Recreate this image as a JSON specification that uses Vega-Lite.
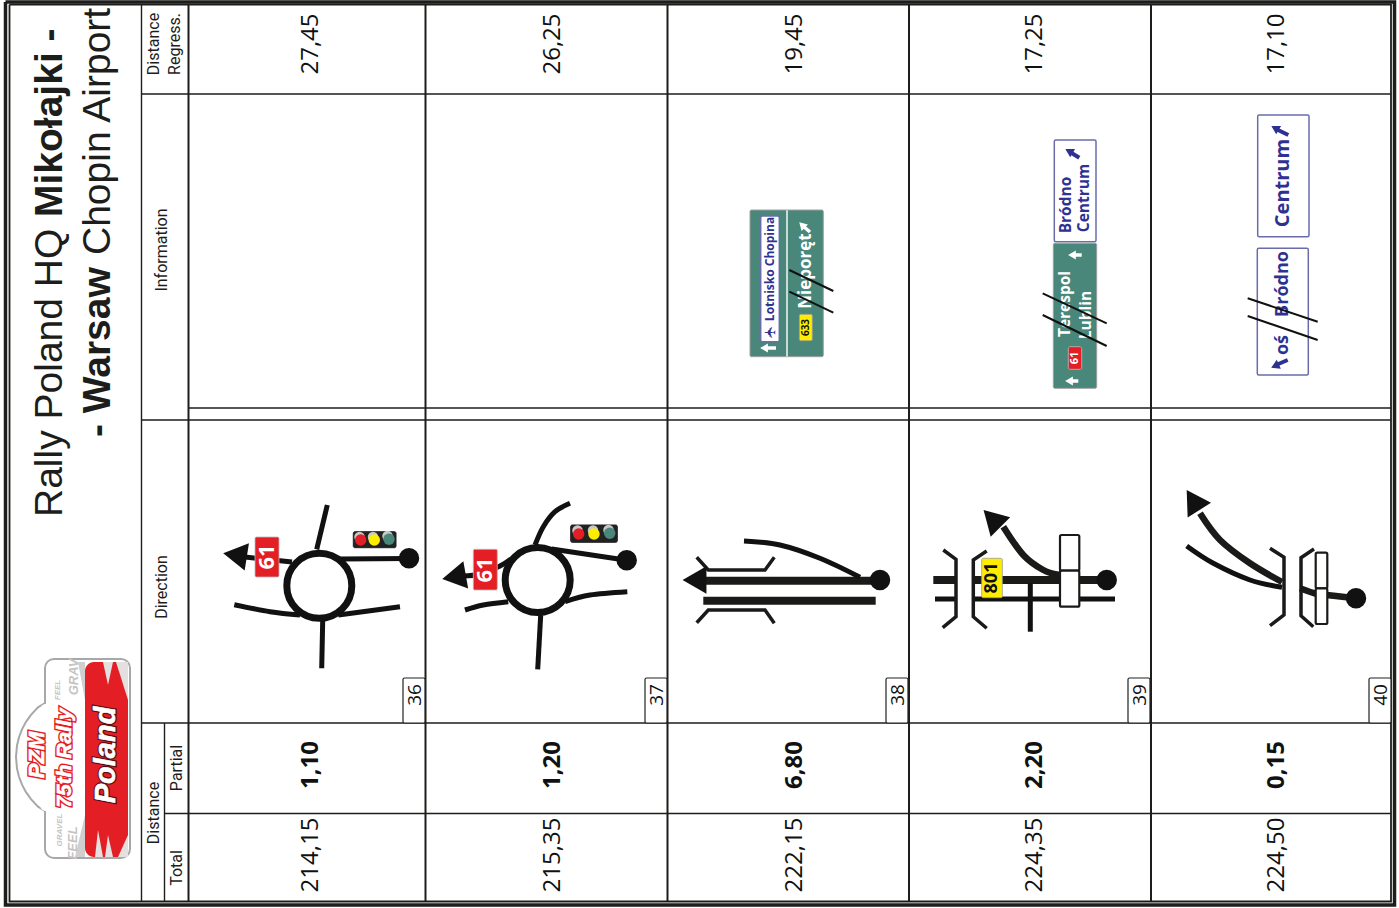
{"$schema":"https://vega.github.io/schema/vega-lite/v6.json","width":1399,"height":908,"padding":0,"autosize":"none","background":"white","config":{"view":{"stroke":null}},
"resolve":{"scale":{"color":"independent","fill":"independent","stroke":"independent","strokeWidth":"independent","size":"independent"}},
"datasets":{
"areas":[
{"piece":"dome","kind":"dome","x":16,"y":757,"y2":757},{"piece":"dome","kind":"dome","x":17,"y":745.5,"y2":768.5},{"piece":"dome","kind":"dome","x":19,"y":737.2,"y2":776.8},{"piece":"dome","kind":"dome","x":22,"y":729.3,"y2":784.7},{"piece":"dome","kind":"dome","x":26,"y":721.8,"y2":792.2},{"piece":"dome","kind":"dome","x":31,"y":714.8,"y2":799.2},{"piece":"dome","kind":"dome","x":38,"y":707.4,"y2":806.6},{"piece":"dome","kind":"dome","x":47,"y":702,"y2":812}
],
"logoRects":[
{"kind":"body","x":45,"x2":130,"y":659,"y2":858},
{"kind":"cover","x":40,"x2":52,"y":704,"y2":811},
{"kind":"red","x":85,"x2":128,"y":662,"y2":857}
],
"flames":[
{"piece":"t1","kind":"grey","x":78,"y":662,"y2":662},{"piece":"t1","kind":"grey","x":85,"y":662,"y2":700},
{"piece":"t2","kind":"pale","x":103,"y":662,"y2":662},{"piece":"t2","kind":"pale","x":108,"y":662,"y2":685},{"piece":"t2","kind":"pale","x":113,"y":662,"y2":662},
{"piece":"t3","kind":"pale","x":116,"y":662,"y2":662},{"piece":"t3","kind":"pale","x":128,"y":662,"y2":700},
{"piece":"b1","kind":"grey","x":75,"y":857,"y2":857},{"piece":"b1","kind":"grey","x":85,"y":815,"y2":857},
{"piece":"b2","kind":"pale","x":95,"y":857,"y2":857},{"piece":"b2","kind":"pale","x":98,"y":830,"y2":857},{"piece":"b2","kind":"pale","x":103,"y":857,"y2":857},
{"piece":"b3","kind":"pale","x":105,"y":857,"y2":857},{"piece":"b3","kind":"pale","x":108,"y":835,"y2":857},{"piece":"b3","kind":"pale","x":113,"y":857,"y2":857},
{"piece":"b4","kind":"pale","x":118,"y":857,"y2":857},{"piece":"b4","kind":"pale","x":128,"y":835,"y2":857}
],
"lines":[
{"path":"fo","kind":"frameOuter","seq":1,"x":5.5,"y":2},{"path":"fo","kind":"frameOuter","seq":2,"x":1394.5,"y":2},{"path":"fo","kind":"frameOuter","seq":3,"x":1394.5,"y":905},{"path":"fo","kind":"frameOuter","seq":4,"x":5.5,"y":905},{"path":"fo","kind":"frameOuter","seq":5,"x":5.5,"y":2},
{"path":"fi","kind":"frameInner","seq":1,"x":9.5,"y":4.5},{"path":"fi","kind":"frameInner","seq":2,"x":1391,"y":4.5},{"path":"fi","kind":"frameInner","seq":3,"x":1391,"y":901.5},{"path":"fi","kind":"frameInner","seq":4,"x":9.5,"y":901.5},{"path":"fi","kind":"frameInner","seq":5,"x":9.5,"y":4.5},
{"path":"v1","kind":"thin","seq":1,"x":141.5,"y":5},{"path":"v1","kind":"thin","seq":2,"x":141.5,"y":902},
{"path":"v2","kind":"major","seq":1,"x":188.5,"y":5},{"path":"v2","kind":"major","seq":2,"x":188.5,"y":902},
{"path":"v3","kind":"thin","seq":1,"x":164.5,"y":723},{"path":"v3","kind":"thin","seq":2,"x":164.5,"y":902},
{"path":"r1","kind":"major","seq":1,"x":425.5,"y":5},{"path":"r1","kind":"major","seq":2,"x":425.5,"y":902},
{"path":"r2","kind":"major","seq":1,"x":667.5,"y":5},{"path":"r2","kind":"major","seq":2,"x":667.5,"y":902},
{"path":"r3","kind":"major","seq":1,"x":909,"y":5},{"path":"r3","kind":"major","seq":2,"x":909,"y":902},
{"path":"r4","kind":"major","seq":1,"x":1151,"y":5},{"path":"r4","kind":"major","seq":2,"x":1151,"y":902},
{"path":"h1","kind":"thin","seq":1,"x":141.5,"y":94},{"path":"h1","kind":"thin","seq":2,"x":1391,"y":94},
{"path":"h2","kind":"thin","seq":1,"x":188.5,"y":408},{"path":"h2","kind":"thin","seq":2,"x":1391,"y":408},
{"path":"h3","kind":"thin","seq":1,"x":141.5,"y":420},{"path":"h3","kind":"thin","seq":2,"x":1391,"y":420},
{"path":"h4","kind":"thin","seq":1,"x":141.5,"y":723},{"path":"h4","kind":"thin","seq":2,"x":1391,"y":723},
{"path":"h5","kind":"thin","seq":1,"x":164.5,"y":813.5},{"path":"h5","kind":"thin","seq":2,"x":1391,"y":813.5},

{"path":"a1","kind":"road","seq":1,"x":409,"y":558.5},{"path":"a1","kind":"road","seq":2,"x":340,"y":559},
{"path":"a2","kind":"road","seq":1,"x":292,"y":562},{"path":"a2","kind":"road","seq":2,"x":245,"y":557},
{"path":"a3","kind":"road","seq":1,"x":316.7,"y":549.3},{"path":"a3","kind":"road","seq":2,"x":327.3,"y":505},
{"path":"a5","kind":"road","seq":1,"x":338.3,"y":615},{"path":"a5","kind":"road","seq":2,"x":400,"y":606.7},
{"path":"a6","kind":"road","seq":1,"x":322.7,"y":620},{"path":"a6","kind":"road","seq":2,"x":321.7,"y":668.3},
{"path":"b1","kind":"road","seq":1,"x":551.7,"y":549},{"path":"b1","kind":"road","seq":2,"x":626.7,"y":560.3},
{"path":"b6","kind":"road","seq":1,"x":540.7,"y":615},{"path":"b6","kind":"road","seq":2,"x":537.7,"y":669.3},

{"path":"c1","kind":"heavy","seq":1,"x":876.7,"y":580.7},{"path":"c1","kind":"heavy","seq":2,"x":704,"y":580.7},
{"path":"c2","kind":"heavy","seq":1,"x":703.3,"y":600.7},{"path":"c2","kind":"heavy","seq":2,"x":875.7,"y":600.7},
{"path":"c3","kind":"bridge","seq":1,"x":696.7,"y":557.3},{"path":"c3","kind":"bridge","seq":2,"x":708.3,"y":570},{"path":"c3","kind":"bridge","seq":3,"x":765,"y":570},{"path":"c3","kind":"bridge","seq":4,"x":774.3,"y":557.3},
{"path":"c4","kind":"bridge","seq":1,"x":696.7,"y":622.7},{"path":"c4","kind":"bridge","seq":2,"x":708.3,"y":610},{"path":"c4","kind":"bridge","seq":3,"x":765,"y":610},{"path":"c4","kind":"bridge","seq":4,"x":774.3,"y":623.3},

{"path":"d1","kind":"heavy","seq":1,"x":933.3,"y":580},{"path":"d1","kind":"heavy","seq":2,"x":955,"y":580},
{"path":"d2","kind":"heavy","seq":1,"x":972,"y":580},{"path":"d2","kind":"heavy","seq":2,"x":1100,"y":580},
{"path":"d3","kind":"road","seq":1,"x":935,"y":599},{"path":"d3","kind":"road","seq":2,"x":955,"y":599},
{"path":"d4","kind":"road","seq":1,"x":972,"y":599},{"path":"d4","kind":"road","seq":2,"x":1115,"y":599},
{"path":"d5","kind":"road","seq":1,"x":1030.3,"y":583},{"path":"d5","kind":"road","seq":2,"x":1030.3,"y":631.7},
{"path":"d6","kind":"bridge","seq":1,"x":943.3,"y":550},{"path":"d6","kind":"bridge","seq":2,"x":956,"y":559.3},{"path":"d6","kind":"bridge","seq":3,"x":956,"y":616.7},{"path":"d6","kind":"bridge","seq":4,"x":942.7,"y":627.7},
{"path":"d7","kind":"bridge","seq":1,"x":986.7,"y":551},{"path":"d7","kind":"bridge","seq":2,"x":973.3,"y":560},{"path":"d7","kind":"bridge","seq":3,"x":973.3,"y":616.7},{"path":"d7","kind":"bridge","seq":4,"x":986.7,"y":628.3},

{"path":"e2","kind":"bridge","seq":1,"x":1270,"y":548.3},{"path":"e2","kind":"bridge","seq":2,"x":1284,"y":557.3},{"path":"e2","kind":"bridge","seq":3,"x":1284,"y":615},{"path":"e2","kind":"bridge","seq":4,"x":1270,"y":625.7},
{"path":"e3","kind":"bridge","seq":1,"x":1314,"y":549},{"path":"e3","kind":"bridge","seq":2,"x":1301,"y":557.7},{"path":"e3","kind":"bridge","seq":3,"x":1301,"y":615.7},{"path":"e3","kind":"bridge","seq":4,"x":1313.3,"y":626.7}
],
"curves":[
{"path":"a4","kind":"road","seq":1,"x":234.3,"y":604.7},{"path":"a4","kind":"road","seq":2,"x":270,"y":611.7},{"path":"a4","kind":"road","seq":3,"x":300,"y":615},
{"path":"b2","kind":"road","seq":1,"x":463,"y":576},{"path":"b2","kind":"road","seq":2,"x":480,"y":574},{"path":"b2","kind":"road","seq":3,"x":500,"y":566},{"path":"b2","kind":"road","seq":4,"x":511,"y":559},
{"path":"b3","kind":"road","seq":1,"x":535,"y":545},{"path":"b3","kind":"road","seq":2,"x":543.3,"y":526.7},{"path":"b3","kind":"road","seq":3,"x":555,"y":511.7},{"path":"b3","kind":"road","seq":4,"x":570,"y":503.3},
{"path":"b4","kind":"road","seq":1,"x":465,"y":610},{"path":"b4","kind":"road","seq":2,"x":483.3,"y":605},{"path":"b4","kind":"road","seq":3,"x":508.3,"y":601.7},
{"path":"b5","kind":"road","seq":1,"x":565,"y":601.7},{"path":"b5","kind":"road","seq":2,"x":590,"y":595},{"path":"b5","kind":"road","seq":3,"x":627.3,"y":591.7},
{"path":"c5","kind":"road","seq":1,"x":744,"y":541},{"path":"c5","kind":"road","seq":2,"x":780,"y":545},{"path":"c5","kind":"road","seq":3,"x":820,"y":558.3},{"path":"c5","kind":"road","seq":4,"x":860,"y":577.3},
{"path":"d8","kind":"curve","seq":1,"x":1060,"y":575},{"path":"d8","kind":"curve","seq":2,"x":1043.3,"y":570},{"path":"d8","kind":"curve","seq":3,"x":1023.3,"y":555},{"path":"d8","kind":"curve","seq":4,"x":1003.3,"y":526.7},
{"path":"e1","kind":"curve","seq":1,"x":1346.7,"y":597.3},{"path":"e1","kind":"curve","seq":2,"x":1326.7,"y":595},{"path":"e1","kind":"curve","seq":3,"x":1316.7,"y":594},{"path":"e1","kind":"curve","seq":4,"x":1300,"y":588.3},
{"path":"e4","kind":"curve","seq":1,"x":1282,"y":582},{"path":"e4","kind":"curve","seq":2,"x":1250,"y":563.3},{"path":"e4","kind":"curve","seq":3,"x":1220,"y":540},{"path":"e4","kind":"curve","seq":4,"x":1200,"y":513.3},
{"path":"e5","kind":"road","seq":1,"x":1282,"y":587.3},{"path":"e5","kind":"road","seq":2,"x":1250,"y":580},{"path":"e5","kind":"road","seq":3,"x":1213.3,"y":563.3},{"path":"e5","kind":"road","seq":4,"x":1186.7,"y":546}
],
"rects":[
{"kind":"tab","x":403,"x2":425,"y":678,"y2":723},{"kind":"tab","x":645,"x2":667,"y":678,"y2":723},{"kind":"tab","x":886,"x2":908,"y":678,"y2":723},{"kind":"tab","x":1128,"x2":1150,"y":678,"y2":723},{"kind":"tab","x":1369,"x2":1391,"y":678,"y2":723},
{"kind":"badgeRed","x":255,"x2":279,"y":537,"y2":577},{"kind":"badgeRed","x":473.3,"x2":497.3,"y":549.3,"y2":590},
{"kind":"light","x":353.3,"x2":396,"y":531.7,"y2":547.7},{"kind":"light","x":570.7,"x2":617.3,"y":525,"y2":542.3},
{"kind":"rail","x":1060,"x2":1079.3,"y":535,"y2":570.7},{"kind":"rail","x":1060,"x2":1079.3,"y":570.7,"y2":606.7},
{"kind":"rail","x":1315.7,"x2":1327.3,"y":552.7,"y2":588.3},{"kind":"rail","x":1315.7,"x2":1327.3,"y":588.3,"y2":624},
{"kind":"badgeYellow","x":981.7,"x2":1002.3,"y":558.3,"y2":597.7},
{"kind":"green","x":750,"x2":823.3,"y":210,"y2":356.7},
{"kind":"blueBox","x":760.7,"x2":779.3,"y":216,"y2":341.7},
{"kind":"divider","x":786.3,"x2":787.7,"y":210,"y2":356.7},
{"kind":"badgeYellow","x":799.3,"x2":812.3,"y":314.3,"y2":340.7},
{"kind":"blueBox","x":1054.3,"x2":1096,"y":140,"y2":241.7},
{"kind":"green","x":1053.3,"x2":1096.7,"y":243.3,"y2":388.3},
{"kind":"badgeRed","x":1068.3,"x2":1081.7,"y":346.7,"y2":369.3},
{"kind":"blueBox","x":1257.7,"x2":1309,"y":115,"y2":236.7},
{"kind":"blueBox","x":1257.3,"x2":1308.3,"y":248.3,"y2":375}
],
"circles":[
{"kind":"roundabout","x":319.3,"y":585.7},{"kind":"roundabout","x":537.7,"y":580},
{"kind":"dot","x":409,"y":558.3},{"kind":"dot","x":626.7,"y":560.3},{"kind":"dot","x":880,"y":580},{"kind":"dot","x":1106.7,"y":580},{"kind":"dot","x":1356,"y":598.3},
{"kind":"lampGrey","x":359.5,"y":537},{"kind":"lampGrey","x":373,"y":537},{"kind":"lampGrey","x":387.5,"y":536},
{"kind":"lampGrey","x":577.5,"y":530.5},{"kind":"lampGrey","x":593,"y":530.5},{"kind":"lampGrey","x":608.5,"y":530},
{"kind":"lampRed","x":360.7,"y":540},{"kind":"lampYellow","x":374.3,"y":540},{"kind":"lampGreen","x":389,"y":539.3},
{"kind":"lampRed","x":578.7,"y":534},{"kind":"lampYellow","x":594,"y":534},{"kind":"lampGreen","x":609.7,"y":533.3}
],
"heads":[
{"kind":"big","x":235,"y":555,"angle":279},{"kind":"big","x":454,"y":577,"angle":260},{"kind":"big","x":694.5,"y":580,"angle":270},{"kind":"big","x":992,"y":518.5,"angle":315},{"kind":"big","x":1193,"y":500,"angle":328},
{"kind":"smallWhite","x":764,"y":348,"angle":270},{"kind":"smallWhite","x":1072,"y":255,"angle":270},{"kind":"smallWhite","x":1069,"y":381,"angle":270},
{"kind":"smallWhite","x":802,"y":225,"angle":315},
{"kind":"smallBlue","x":1069,"y":151,"angle":300},{"kind":"smallBlue","x":1275,"y":128,"angle":300},{"kind":"smallBlue","x":1275,"y":366,"angle":245}
],
"overlay":[
{"path":"s1","kind":"strike","seq":1,"x":789.3,"y":270},{"path":"s1","kind":"strike","seq":2,"x":833.3,"y":291},
{"path":"s2","kind":"strike","seq":1,"x":789.3,"y":291.7},{"path":"s2","kind":"strike","seq":2,"x":833.3,"y":312.7},
{"path":"s3","kind":"strike","seq":1,"x":1042.7,"y":293.3},{"path":"s3","kind":"strike","seq":2,"x":1106.7,"y":323.3},
{"path":"s4","kind":"strike","seq":1,"x":1042.7,"y":315},{"path":"s4","kind":"strike","seq":2,"x":1106.7,"y":346},
{"path":"s5","kind":"strike","seq":1,"x":1247.7,"y":298.3},{"path":"s5","kind":"strike","seq":2,"x":1317.7,"y":321.7},
{"path":"s6","kind":"strike","seq":1,"x":1247.7,"y":316},{"path":"s6","kind":"strike","seq":2,"x":1317.7,"y":340},
{"path":"w1","kind":"white","seq":1,"x":765,"y":348},{"path":"w1","kind":"white","seq":2,"x":776,"y":348},
{"path":"w2","kind":"white","seq":1,"x":1073,"y":255},{"path":"w2","kind":"white","seq":2,"x":1081.7,"y":255},
{"path":"w3","kind":"white","seq":1,"x":1070,"y":381},{"path":"w3","kind":"white","seq":2,"x":1078.3,"y":381},
{"path":"w4","kind":"white","seq":1,"x":803,"y":226},{"path":"w4","kind":"white","seq":2,"x":810,"y":232},
{"path":"u1","kind":"blue","seq":1,"x":1070,"y":152},{"path":"u1","kind":"blue","seq":2,"x":1079.3,"y":157.7},
{"path":"u2","kind":"blue","seq":1,"x":1276,"y":129},{"path":"u2","kind":"blue","seq":2,"x":1288.3,"y":135},
{"path":"u3","kind":"blue","seq":1,"x":1276,"y":365},{"path":"u3","kind":"blue","seq":2,"x":1287.7,"y":360}
],
"titleRegular":[{"label":"Rally Poland HQ","x":62,"y":517},{"label":"Chopin Airport","x":110,"y":255}],
"titleBold":[{"label":"Mikołajki -","x":62,"y":217},{"label":"- Warsaw","x":110,"y":437}],
"headers":[{"label":"Distance","x":153.5,"y":44},{"label":"Regress.","x":175,"y":44},{"label":"Information","x":162,"y":250},{"label":"Direction","x":162,"y":587},{"label":"Distance","x":153.5,"y":813},{"label":"Partial","x":177,"y":768},{"label":"Total","x":177,"y":868}],
"values":[
{"label":"27,45","x":311,"y":44},{"label":"26,25","x":553,"y":44},{"label":"19,45","x":795,"y":44},{"label":"17,25","x":1035,"y":44},{"label":"17,10","x":1277,"y":44},
{"label":"214,15","x":311,"y":855},{"label":"215,35","x":553,"y":855},{"label":"222,15","x":795,"y":855},{"label":"224,35","x":1035,"y":855},{"label":"224,50","x":1277,"y":855}
],
"partials":[{"label":"1,10","x":311,"y":765},{"label":"1,20","x":553,"y":765},{"label":"6,80","x":795,"y":765},{"label":"2,20","x":1035,"y":765},{"label":"0,15","x":1277,"y":765}],
"tabs":[{"label":"36","x":415,"y":695},{"label":"37","x":657,"y":695},{"label":"38","x":898,"y":695},{"label":"39","x":1140,"y":695},{"label":"40","x":1381,"y":695}],
"signText":[
{"kind":"b61","label":"61","x":267,"y":557},{"kind":"b61","label":"61","x":485.3,"y":570},
{"kind":"b801","label":"801","x":992,"y":578},
{"kind":"s633","label":"633","x":806,"y":327.5},
{"kind":"s61","label":"61","x":1075,"y":358},
{"kind":"lot","label":"Lotnisko Chopina","x":770,"y":269},
{"kind":"nie","label":"Nieporęt","x":806,"y":271},
{"kind":"bro","label":"Bródno","x":1066,"y":205},
{"kind":"cen","label":"Centrum","x":1084,"y":198},
{"kind":"ter","label":"Terespol","x":1065,"y":304},
{"kind":"lub","label":"Lublin","x":1086,"y":315},
{"kind":"cen2","label":"Centrum","x":1283,"y":183},
{"kind":"bro2","label":"Bródno","x":1283,"y":284},
{"kind":"os","label":"oś","x":1283,"y":345}
],
"plane":[{"label":"✈","x":770,"y":332}],
"logoWhite":[{"label":"Poland","x":106,"y":755,"kind":"poland"},{"label":"75th Rally","x":65,"y":758,"kind":"rally"},{"label":"PZM","x":37,"y":755,"kind":"pzm"}],
"logoGrey":[{"label":"FEEL","x":73,"y":843,"kind":"big"},{"label":"GRAV","x":74,"y":677,"kind":"big"},{"label":"FEEL","x":58,"y":690,"kind":"small"},{"label":"GRAVEL","x":60,"y":830,"kind":"small"}]
},
"encoding":{"x":{"field":"x","type":"quantitative","axis":null,"scale":{"domain":[0,1399],"nice":false,"zero":false}},"y":{"field":"y","type":"quantitative","axis":null,"scale":{"domain":[908,0],"nice":false,"zero":false}}},
"layer":[
{"data":{"name":"areas"},"mark":{"type":"area","fill":"white","stroke":"#a8a8a8","strokeWidth":2},"encoding":{"y2":{"field":"y2"},"detail":{"field":"piece"}}},
{"data":{"name":"logoRects"},"mark":{"type":"rect","cornerRadius":9},"encoding":{"x2":{"field":"x2"},"y2":{"field":"y2"},
 "fill":{"field":"kind","type":"nominal","legend":null,"scale":{"domain":["body","cover","red"],"range":["white","white","#e31e24"]}},
 "stroke":{"field":"kind","type":"nominal","legend":null,"scale":{"domain":["body","cover","red"],"range":["#a8a8a8","transparent","transparent"]}},
 "strokeWidth":{"value":2}}},
{"data":{"name":"flames"},"mark":{"type":"area"},"encoding":{"y2":{"field":"y2"},"detail":{"field":"piece"},"fill":{"field":"kind","type":"nominal","legend":null,"scale":{"domain":["grey","pale"],"range":["#cfcfcf","#e4e0e0"]}}}},
{"data":{"name":"logoGrey"},"mark":{"type":"text","font":"Liberation Sans","fontWeight":"bold","fontStyle":"italic","angle":270,"align":"center","baseline":"middle","fill":"#c4c4c4"},"encoding":{"text":{"field":"label"},"size":{"field":"kind","type":"ordinal","legend":null,"scale":{"type":"ordinal","domain":["big","small"],"range":[13,8]}}}},
{"data":{"name":"logoWhite"},"mark":{"type":"text","font":"Liberation Sans","fontWeight":"bold","fontStyle":"italic","angle":270,"align":"center","baseline":"middle","fill":"white"},"encoding":{"text":{"field":"label"},
 "size":{"field":"kind","type":"ordinal","legend":null,"scale":{"type":"ordinal","domain":["poland","rally","pzm"],"range":[29,21,22]}},
 "stroke":{"field":"kind","type":"nominal","legend":null,"scale":{"domain":["poland","rally","pzm"],"range":["#5a0c10","#e31e24","#e31e24"]}},
 "strokeWidth":{"field":"kind","type":"ordinal","legend":null,"scale":{"type":"ordinal","domain":["poland","rally","pzm"],"range":[3,3.5,3.5]}}}},
{"data":{"name":"logoWhite"},"mark":{"type":"text","font":"Liberation Sans","fontWeight":"bold","fontStyle":"italic","angle":270,"align":"center","baseline":"middle","fill":"white","stroke":"white","strokeWidth":0.6},"encoding":{"text":{"field":"label"},
 "size":{"field":"kind","type":"ordinal","legend":null,"scale":{"type":"ordinal","domain":["poland","rally","pzm"],"range":[29,21,22]}}}},
{"data":{"name":"lines"},"mark":{"type":"line","strokeCap":"butt","strokeJoin":"miter","interpolate":"linear"},"encoding":{"detail":{"field":"path"},"order":{"field":"seq","type":"quantitative"},
 "color":{"field":"kind","type":"nominal","legend":null,"scale":{"domain":["frameOuter","frameInner","major","thin","road","heavy","bridge"],"range":["#1d1d1b","#1d1d1b","#1d1d1b","#1d1d1b","#111111","#1a1a18","#1a1a18"]}},
 "strokeWidth":{"field":"kind","type":"ordinal","legend":null,"scale":{"type":"ordinal","domain":["frameOuter","frameInner","major","thin","road","heavy","bridge"],"range":[3.5,1.8,2,1.4,5,8,3.5]}}}},
{"data":{"name":"curves"},"mark":{"type":"line","strokeCap":"butt","interpolate":"cardinal"},"encoding":{"detail":{"field":"path"},"order":{"field":"seq","type":"quantitative"},
 "color":{"field":"kind","type":"nominal","legend":null,"scale":{"domain":["road","curve"],"range":["#111111","#1a1a18"]}},
 "strokeWidth":{"field":"kind","type":"ordinal","legend":null,"scale":{"type":"ordinal","domain":["road","curve"],"range":[5,6.5]}}}},
{"data":{"name":"rects"},"mark":{"type":"rect","cornerRadius":1.5},"encoding":{"x2":{"field":"x2"},"y2":{"field":"y2"},
 "fill":{"field":"kind","type":"nominal","legend":null,"scale":{"domain":["tab","badgeRed","light","rail","badgeYellow","green","blueBox","divider"],"range":["white","#e31e24","#222222","white","#ffed00","#48877a","white","white"]}},
 "stroke":{"field":"kind","type":"nominal","legend":null,"scale":{"domain":["tab","badgeRed","light","rail","badgeYellow","green","blueBox","divider"],"range":["#222222","#bbbbbb","#222222","#1a1a18","#999999","#a0a0a0","#6a6cab","transparent"]}},
 "strokeWidth":{"field":"kind","type":"ordinal","legend":null,"scale":{"type":"ordinal","domain":["tab","badgeRed","light","rail","badgeYellow","green","blueBox","divider"],"range":[1.2,0.8,1,2.2,0.8,1,1.5,0]}}}},
{"data":{"name":"circles"},"mark":{"type":"point","filled":true,"shape":"circle","opacity":1},"encoding":{
 "fill":{"field":"kind","type":"nominal","legend":null,"scale":{"domain":["roundabout","dot","lampGrey","lampRed","lampYellow","lampGreen"],"range":["white","#111111","#c8c8c8","#e31e24","#ffed00","#48877a"]}},
 "stroke":{"field":"kind","type":"nominal","legend":null,"scale":{"domain":["roundabout","dot","lampGrey","lampRed","lampYellow","lampGreen"],"range":["#111111","#111111","#c8c8c8","#e31e24","#ffed00","#48877a"]}},
 "strokeWidth":{"field":"kind","type":"ordinal","legend":null,"scale":{"type":"ordinal","domain":["roundabout","dot","lampGrey","lampRed","lampYellow","lampGreen"],"range":[7,0,0,0,0,0]}},
 "size":{"field":"kind","type":"ordinal","legend":null,"scale":{"type":"ordinal","domain":["roundabout","dot","lampGrey","lampRed","lampYellow","lampGreen"],"range":[4225,420,110,130,130,130]}}}},
{"data":{"name":"heads"},"mark":{"type":"point","filled":true,"shape":"triangle-up","opacity":1},"encoding":{
 "angle":{"field":"angle","type":"quantitative","scale":null},
 "fill":{"field":"kind","type":"nominal","legend":null,"scale":{"domain":["big","smallWhite","smallBlue"],"range":["#111111","white","#2e3192"]}},
 "size":{"field":"kind","type":"ordinal","legend":null,"scale":{"type":"ordinal","domain":["big","smallWhite","smallBlue"],"range":[760,80,95]}}}},
{"data":{"name":"titleRegular"},"mark":{"type":"text","font":"Liberation Sans","fontSize":39,"angle":270,"align":"left","baseline":"alphabetic","fill":"#1d1d1b"},"encoding":{"text":{"field":"label"}}},
{"data":{"name":"titleBold"},"mark":{"type":"text","font":"Liberation Sans","fontWeight":"bold","fontSize":39,"angle":270,"align":"left","baseline":"alphabetic","fill":"#1d1d1b"},"encoding":{"text":{"field":"label"}}},
{"data":{"name":"headers"},"mark":{"type":"text","font":"Roboto","fontSize":16,"angle":270,"align":"center","baseline":"middle","fill":"#1d1d1b"},"encoding":{"text":{"field":"label"}}},
{"data":{"name":"values"},"mark":{"type":"text","font":"Open Sans","fontSize":24,"angle":270,"align":"center","baseline":"middle","fill":"#111111"},"encoding":{"text":{"field":"label"}}},
{"data":{"name":"partials"},"mark":{"type":"text","font":"Open Sans","fontWeight":"bold","fontSize":24,"angle":270,"align":"center","baseline":"middle","fill":"#111111"},"encoding":{"text":{"field":"label"}}},
{"data":{"name":"tabs"},"mark":{"type":"text","font":"Open Sans","fontSize":19,"angle":270,"align":"center","baseline":"middle","fill":"#111111"},"encoding":{"text":{"field":"label"}}},
{"data":{"name":"signText"},"mark":{"type":"text","font":"Open Sans","fontWeight":"bold","angle":270,"align":"center","baseline":"middle"},"encoding":{"text":{"field":"label"},
 "size":{"field":"kind","type":"ordinal","legend":null,"scale":{"type":"ordinal","domain":["b61","b801","s633","s61","lot","nie","bro","cen","ter","lub","cen2","bro2","os"],"range":[22,18,10,11,12,17,15.5,15.5,15.5,15.5,20,18,18]}},
 "fill":{"field":"kind","type":"nominal","legend":null,"scale":{"domain":["b61","b801","s633","s61","lot","nie","bro","cen","ter","lub","cen2","bro2","os"],"range":["white","#111111","#111111","white","#2e3192","white","#2e3192","#2e3192","white","white","#2e3192","#2e3192","#2e3192"]}}}},
{"data":{"name":"plane"},"mark":{"type":"text","font":"DejaVu Sans","fontSize":15,"angle":180,"align":"center","baseline":"middle","fill":"#2e3192"},"encoding":{"text":{"field":"label"}}},
{"data":{"name":"overlay"},"mark":{"type":"line","strokeCap":"butt"},"encoding":{"detail":{"field":"path"},"order":{"field":"seq","type":"quantitative"},
 "color":{"field":"kind","type":"nominal","legend":null,"scale":{"domain":["strike","white","blue"],"range":["#111111","white","#2e3192"]}},
 "strokeWidth":{"field":"kind","type":"ordinal","legend":null,"scale":{"type":"ordinal","domain":["strike","white","blue"],"range":[2,3.5,4]}}}}
]}
